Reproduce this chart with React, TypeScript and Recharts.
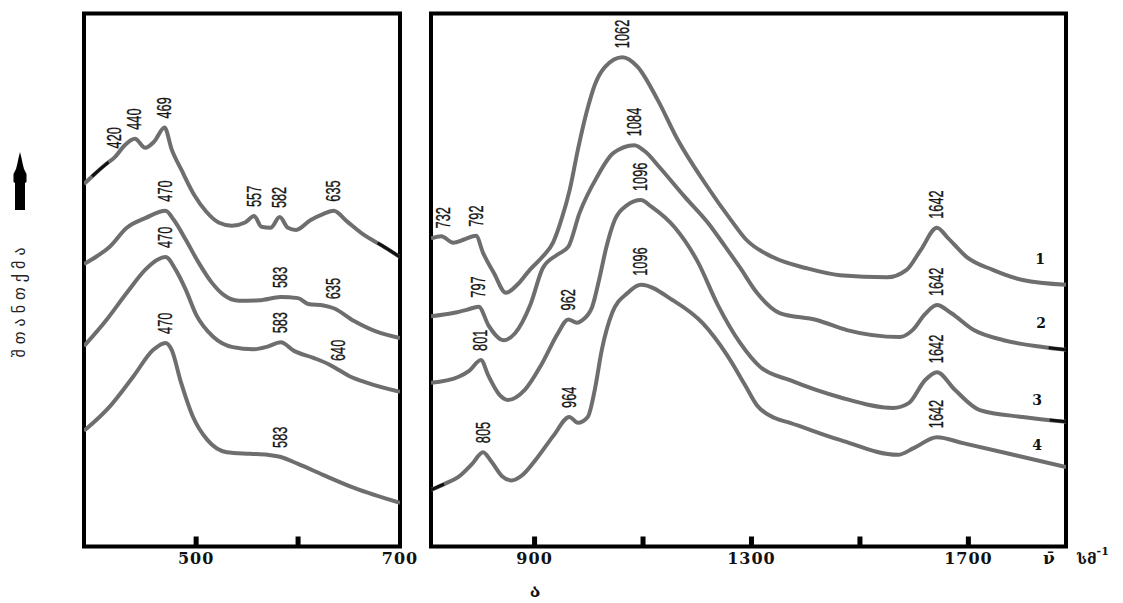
import { LineChart, Line, XAxis, YAxis, ReferenceArea, ReferenceDot } from "recharts";

type Pt = [number, number];

// axis ticks (cm-1)
const lowTicks = [500, 600, 700];
const lowTickLabels = [500, 700];
const highTicks = [900, 1100, 1300, 1500, 1700];
const highTickLabels = [900, 1300, 1700];

const lowDomain: [number, number] = [390, 700];
const highDomain: [number, number] = [709, 1880];

// 390–700 cm-1 region, spectra 1..4 (wavenumber, absorbance a.u.)
const low1: Pt[] = [
  [390, 68.0], [400, 69.8], [412, 71.8], [420, 73.0], [430, 75.3], [440, 76.5],
  [450, 74.8], [459, 76.0], [469, 78.6], [476, 74.5], [486, 70.5], [498, 66.0],
  [510, 62.8], [522, 60.8], [535, 60.2], [548, 60.8], [557, 62.0], [564, 60.0],
  [573, 59.8], [582, 61.8], [590, 59.8], [598, 59.4], [612, 61.2], [625, 62.4],
  [635, 63.0], [648, 61.0], [665, 58.4], [682, 56.5], [700, 54.3],
];
const low2: Pt[] = [
  [390, 53.0], [403, 54.5], [415, 56.2], [432, 59.8], [450, 61.6], [470, 63.0],
  [478, 61.3], [490, 57.5], [502, 53.4], [515, 49.6], [527, 47.2], [542, 46.1],
  [562, 46.2], [583, 46.8], [600, 46.6], [610, 45.5], [625, 45.2], [635, 44.7],
  [655, 42.3], [677, 40.3], [700, 39.1],
];
const low3: Pt[] = [
  [390, 37.6], [412, 42.5], [432, 47.6], [450, 51.9], [462, 53.8], [470, 54.3],
  [480, 51.9], [490, 48.1], [500, 43.5], [517, 39.3], [536, 37.4], [556, 37.0],
  [570, 37.5], [583, 38.3], [596, 36.7], [615, 35.4], [630, 34.2], [640, 33.1],
  [650, 32.0], [668, 30.7], [700, 29.0],
];
const low4: Pt[] = [
  [390, 21.7], [415, 26.2], [438, 31.8], [458, 36.9], [470, 38.2], [476, 36.9],
  [485, 30.9], [497, 24.3], [511, 20.0], [530, 17.7], [553, 17.4], [570, 17.2],
  [583, 16.8], [600, 15.5], [625, 13.4], [655, 11.0], [700, 8.2],
];

// 709–1880 cm-1 region
const high1: Pt[] = [
  [709, 57.8], [728, 58.2], [750, 57.0], [770, 57.6], [792, 58.3], [805, 55.1],
  [825, 51.3], [847, 47.6], [870, 49.3], [892, 52.0], [915, 54.4], [934, 57.0],
  [950, 61.5], [965, 67.0], [980, 74.5], [996, 81.5], [1011, 86.6], [1030, 90.0],
  [1062, 91.8], [1090, 90.0], [1127, 83.8], [1164, 76.3], [1214, 68.2], [1264, 61.0],
  [1290, 57.6], [1339, 54.3], [1402, 52.2], [1463, 50.9], [1550, 50.5], [1586, 51.9],
  [1612, 55.6], [1642, 59.8], [1662, 57.9], [1697, 54.3], [1745, 51.9], [1800, 50.0],
  [1880, 49.1],
];
const high2: Pt[] = [
  [709, 43.2], [750, 43.8], [775, 44.4], [797, 45.0], [815, 41.5], [843, 38.7],
  [864, 40.0], [892, 45.3], [915, 52.2], [941, 54.7], [962, 56.2], [983, 62.6],
  [1015, 69.3], [1045, 73.8], [1084, 75.3], [1105, 74.0], [1130, 71.2], [1177, 65.6],
  [1220, 60.7], [1250, 56.5], [1279, 52.3], [1310, 47.6], [1352, 43.8], [1420, 42.5],
  [1476, 40.6], [1573, 39.3], [1597, 40.6], [1620, 43.6], [1642, 45.3], [1668, 43.8],
  [1710, 40.6], [1765, 38.7], [1840, 37.4], [1880, 36.9],
];
const high3: Pt[] = [
  [709, 30.7], [759, 31.8], [780, 33.0], [801, 35.0], [815, 32.0], [835, 28.5],
  [851, 27.5], [882, 29.4], [914, 34.4], [943, 40.0], [962, 42.6], [978, 42.0],
  [987, 42.4], [1006, 44.9], [1020, 50.5], [1032, 56.0], [1048, 61.3], [1070, 64.0],
  [1096, 65.0], [1116, 63.7], [1159, 59.8], [1201, 53.4], [1238, 45.3], [1279, 38.2],
  [1316, 33.7], [1371, 31.2], [1463, 28.0], [1561, 26.0], [1590, 26.9], [1620, 31.2],
  [1642, 32.7], [1675, 29.4], [1721, 25.6], [1800, 24.3], [1880, 23.4],
];
const high4: Pt[] = [
  [709, 10.6], [735, 11.8], [759, 13.0], [785, 15.5], [805, 17.7], [820, 16.0],
  [840, 13.2], [858, 12.4], [875, 13.2], [906, 16.8], [935, 20.8], [964, 24.3],
  [980, 23.2], [998, 24.3], [1011, 29.4], [1024, 36.9], [1043, 43.8], [1072, 47.6],
  [1096, 49.1], [1155, 46.2], [1210, 41.9], [1255, 35.9], [1288, 30.3], [1310, 26.5],
  [1343, 24.1], [1371, 23.2], [1463, 20.0], [1570, 17.2], [1600, 18.5], [1642, 20.5],
  [1690, 19.4], [1771, 17.5], [1880, 14.9],
];

// band positions written above each spectrum
const lowPeaks1 = [420, 440, 469, 557, 582, 635];
const lowPeaks2 = [470, 583, 635];
const lowPeaks3 = [470, 583, 640];
const lowPeaks4 = [470, 583];
const highPeaks1 = [732, 792, 1062, 1642];
const highPeaks2 = [797, 1084, 1642];
const highPeaks3 = [801, 962, 1096, 1642];
const highPeaks4 = [805, 964, 1096, 1642];

// short stretches retraced in black ink: [spectrum index, from, to]
const lowInk: [number, number, number][] = [[0, 398, 414], [0, 678, 700]];
const highInk: [number, number, number][] = [[1, 1848, 1880], [2, 1850, 1880], [3, 709, 733]];

const seriesNames = ["1", "2", "3", "4"];

const LINE = "#6e6e6e";
const H = 603;

const valueAt = (pts: Pt[], wn: number) => {
  for (let i = 1; i < pts.length; i++) {
    const [x0, y0] = pts[i - 1];
    const [x1, y1] = pts[i];
    if (wn <= x1) return y0 + ((y1 - y0) * (wn - x0)) / (x1 - x0);
  }
  return pts[pts.length - 1][1];
};

const slice = (pts: Pt[], from: number, to: number) => [
  { wn: from, a: valueAt(pts, from) },
  ...pts.filter(([w]) => w > from && w < to).map(([wn, a]) => ({ wn, a })),
  { wn: to, a: valueAt(pts, to) },
];

const PeakLabel = (props: any) => {
  const { viewBox, value } = props;
  if (!viewBox) return null;
  const x = viewBox.x + (viewBox.width || 0) / 2;
  const y = viewBox.y;
  return (
    <text
      transform={`translate(${x + 6.5},${y - 9}) rotate(-90) scale(0.64,1)`}
      fontFamily="'Liberation Sans', Arial, sans-serif"
      fontSize={20}
      fill="#151515"
      stroke="#151515"
      strokeWidth={0.35}
    >
      {value}
    </text>
  );
};

const makeTick = (labels: number[], edge: number) => (props: any) => {
  const { x, y, payload } = props;
  const v = payload.value;
  return (
    <g>
      {v !== edge && <rect x={x - 2.5} y={y - 10} width={5} height={10} fill="#000" />}
      {labels.includes(v) && (
        <text
          x={x}
          y={y + 17}
          textAnchor="middle"
          fontFamily="'DejaVu Serif', serif"
          fontWeight="bold"
          fontSize={16}
          letterSpacing={1}
          fill="#111"
        >
          {v}
        </text>
      )}
    </g>
  );
};

type PanelProps = {
  left: number;
  width: number;
  margin: { top: number; right: number; bottom: number; left: number };
  domain: [number, number];
  ticks: number[];
  tickLabels: number[];
  curves: Pt[][];
  peaks: number[][];
  ink: [number, number, number][];
};

function SpectrumPanel({ left, width, margin, domain, ticks, tickLabels, curves, peaks, ink }: PanelProps) {
  return (
    <div style={{ position: "absolute", left, top: 0 }}>
      <LineChart width={width} height={H} margin={margin}>
        <XAxis
          type="number"
          dataKey="wn"
          domain={domain}
          allowDataOverflow
          ticks={ticks}
          interval={0}
          axisLine={false}
          tickLine={false}
          tickSize={0}
          tickMargin={0}
          height={40}
          tick={makeTick(tickLabels, domain[1])}
        />
        <YAxis type="number" domain={[0, 100]} hide width={0} />
        <ReferenceArea
          x1={domain[0]}
          x2={domain[1]}
          y1={0}
          y2={100}
          fill="none"
          stroke="#000"
          strokeWidth={4}
        />
        {curves.map((c, i) => (
          <Line
            key={i}
            data={c.map(([wn, a]) => ({ wn, a }))}
            dataKey="a"
            type="monotone"
            stroke={LINE}
            strokeWidth={4}
            strokeLinejoin="round"
            dot={false}
            activeDot={false}
            isAnimationActive={false}
          />
        ))}
        {ink.map(([ci, from, to], k) => (
          <Line
            key={`ink-${k}`}
            data={slice(curves[ci], from, to)}
            dataKey="a"
            type="monotone"
            stroke="#111"
            strokeWidth={3}
            dot={false}
            activeDot={false}
            isAnimationActive={false}
          />
        ))}
        {curves.map((c, i) =>
          peaks[i].map((wn) => (
            <ReferenceDot
              key={`${i}-${wn}`}
              x={wn}
              y={valueAt(c, wn)}
              r={0}
              fill="none"
              stroke="none"
              label={{ value: String(wn), content: PeakLabel }}
            />
          ))
        )}
      </LineChart>
    </div>
  );
}

export default function App() {
  const serif = "'DejaVu Serif', 'Liberation Serif', serif";
  return (
    <div
      style={{
        position: "absolute",
        left: 0,
        top: 0,
        width: 1123,
        height: H,
        background: "#fff",
        overflow: "hidden",
      }}
    >
      <SpectrumPanel
        left={0}
        width={430}
        margin={{ top: 13.5, right: 30, bottom: 16.5, left: 84 }}
        domain={lowDomain}
        ticks={lowTicks}
        tickLabels={lowTickLabels}
        curves={[low1, low2, low3, low4]}
        peaks={[lowPeaks1, lowPeaks2, lowPeaks3, lowPeaks4]}
        ink={lowInk}
      />
      <SpectrumPanel
        left={400}
        width={700}
        margin={{ top: 13.5, right: 34, bottom: 16.5, left: 31 }}
        domain={highDomain}
        ticks={highTicks}
        tickLabels={highTickLabels}
        curves={[high1, high2, high3, high4]}
        peaks={[highPeaks1, highPeaks2, highPeaks3, highPeaks4]}
        ink={highInk}
      />
      <svg
        width={1123}
        height={H}
        style={{ position: "absolute", left: 0, top: 0, pointerEvents: "none" }}
      >
        {/* absorbance arrow */}
        <polygon
          points="20,152 21.5,158 22.5,163 24,169 26.5,174 26.5,182 25,183 25,210 15,210 15,183 13.5,182 13.5,174 16,169 17.5,163 18.5,158"
          fill="#000"
        />
        <text
          transform="translate(25,300) rotate(-90)"
          textAnchor="middle"
          fontFamily="'DejaVu Sans', sans-serif"
          fontSize={16}
          letterSpacing={5}
          fill="#222"
        >
          შთანთქმა
        </text>
        {seriesNames.map((s, i) => (
          <text
            key={s}
            x={[1040, 1041, 1037, 1037][i]}
            y={[264, 328, 405, 450][i]}
            textAnchor="middle"
            fontFamily={serif}
            fontWeight="bold"
            fontSize={14}
            fill="#111"
          >
            {s}
          </text>
        ))}
        <text x={1043} y={564} fontFamily={serif} fontWeight="bold" fontSize={17} fill="#111">
          ν̄
        </text>
        <text x={1077} y={564} fontFamily={serif} fontWeight="bold" fontSize={15} fill="#111">
          სმ
          <tspan dy={-9} fontSize={11}>
            -1
          </tspan>
        </text>
        <text x={535} y={597} textAnchor="middle" fontFamily={serif} fontWeight="bold" fontSize={18} fill="#111">
          ა
        </text>
      </svg>
    </div>
  );
}
